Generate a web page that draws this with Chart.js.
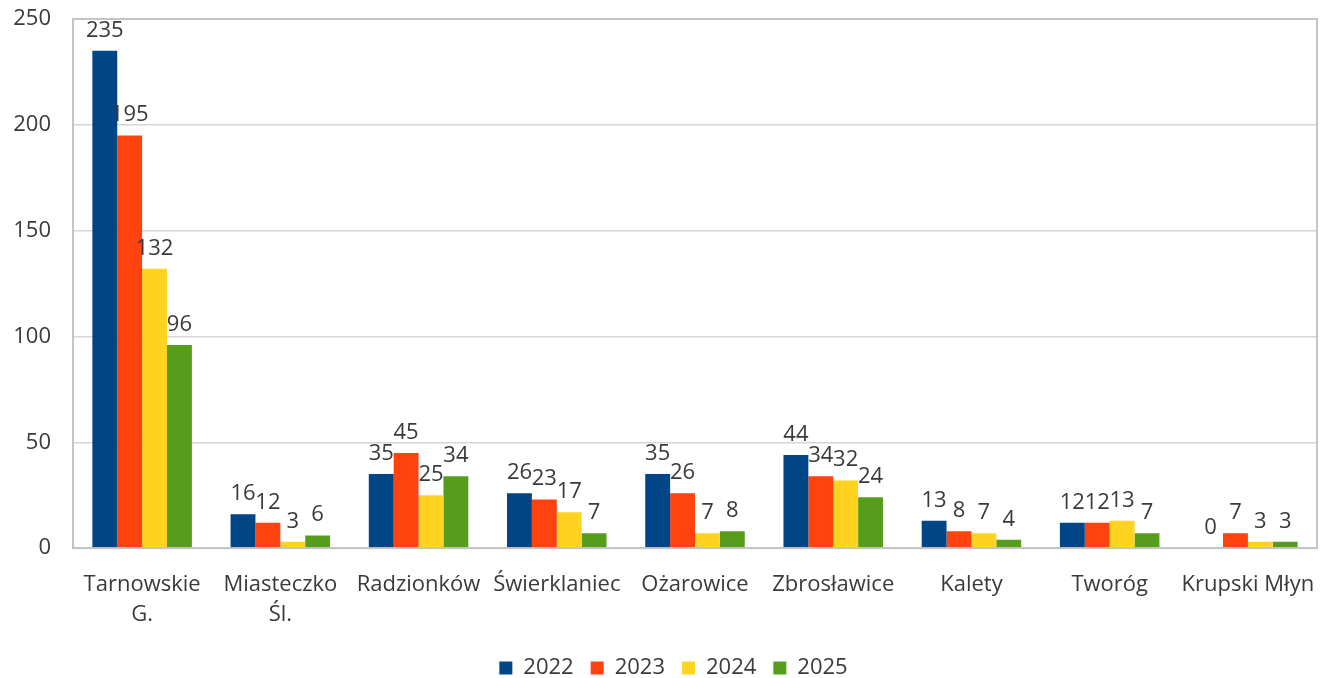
<!DOCTYPE html>
<html>
<head>
<meta charset="utf-8">
<script src="https://cdn.jsdelivr.net/npm/chart.js@4/dist/chart.umd.min.js"></script>
<style>
  html, body { margin: 0; padding: 0; background: #fff; }
  #wrap { width: 1333px; height: 678px; }
</style>
</head>
<body>
<div id="wrap"><canvas id="chart"></canvas></div>
<script>
const categories = [["Tarnowskie", "G."], ["Miasteczko", "Śl."], "Radzionków", "Świerklaniec", "Ożarowice", "Zbrosławice", "Kalety", "Tworóg", "Krupski Młyn"];
const years = ["2022", "2023", "2024", "2025"];
const values2022 = [235, 16, 35, 26, 35, 44, 13, 12, 0];
const values2023 = [195, 12, 45, 23, 26, 34, 8, 12, 7];
const values2024 = [132, 3, 25, 17, 7, 32, 7, 13, 3];
const values2025 = [96, 6, 34, 7, 8, 24, 4, 7, 3];
const colors = ['#004586', '#ff420e', '#ffd320', '#579d1c'];

const FONT = '"Open Sans", sans-serif';
const TEXT = '#3a3a3a';

// value labels on top of each bar + frame round the plot
const barLabels = {
    id: 'barLabels',
    afterLayout(chart) {
        // legend sits a little right of centre in the original
        chart.legend.left += 15;
        chart.legend.right += 15;
    },
    afterDatasetsDraw(chart) {
        const ctx = chart.ctx;
        ctx.save();
        ctx.font = '22px ' + FONT;
        ctx.fillStyle = TEXT;
        ctx.textAlign = 'center';
        ctx.textBaseline = 'alphabetic';
        chart.data.datasets.forEach((ds, i) => {
            chart.getDatasetMeta(i).data.forEach((bar, j) => {
                ctx.fillText(String(ds.data[j]), bar.x, bar.y - 14);
            });
        });
        const a = chart.chartArea;
        ctx.strokeStyle = '#c4c4c4';
        ctx.lineWidth = 2;
        ctx.strokeRect(a.left, a.top, a.right - a.left, a.bottom - a.top);
        ctx.restore();
    }
};

new Chart(document.getElementById('chart'), {
    type: 'bar',
    data: {
        labels: categories,
        datasets: [values2022, values2023, values2024, values2025].map((d, i) => ({
            label: years[i],
            data: d,
            backgroundColor: colors[i],
            borderWidth: 0
        }))
    },
    options: {
        responsive: true,
        maintainAspectRatio: false,
        animation: false,
        layout: { padding: { top: 19, right: 16, left: 0, bottom: -11 } },
        datasets: { bar: { barPercentage: 1, categoryPercentage: 0.72 } },
        scales: {
            x: {
                grid: { display: false },
                border: { color: '#c4c4c4', width: 2 },
                ticks: { color: TEXT, font: { family: FONT, size: 22, lineHeight: 1.36 }, padding: 14, maxRotation: 0, autoSkip: false },
                afterFit: (s) => { s.height -= 4; }
            },
            y: {
                min: 0, max: 250,
                ticks: { stepSize: 50, color: TEXT, font: { family: FONT, size: 22 }, padding: 22 },
                grid: { color: '#d6d6d6', lineWidth: 1.5, drawTicks: false },
                border: { color: '#c4c4c4', width: 2 },
                afterFit: (s) => { s.paddingTop = 0; s.width = 73; }
            }
        },
        plugins: {
            legend: {
                position: 'bottom',
                labels: { boxWidth: 13, boxHeight: 13, padding: 17, color: TEXT, font: { family: FONT, size: 22 } }
            },
            tooltip: { enabled: false }
        }
    },
    plugins: [barLabels]
});
</script>
</body>
</html>
